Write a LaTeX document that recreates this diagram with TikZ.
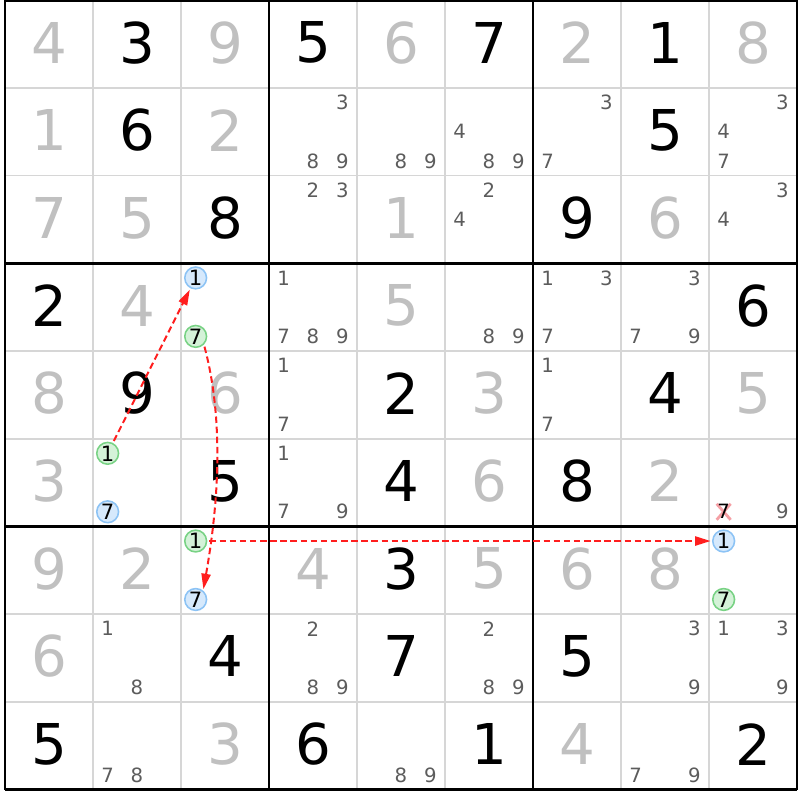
\documentclass[tikz,border=0pt]{standalone}
\usepackage{fontspec}
\setmainfont{DejaVu Sans}
\usepackage{xcolor}
\usepackage{tikz}
\usetikzlibrary{arrows.meta}

\definecolor{solvedgray}{RGB}{192,192,192}
\definecolor{candgray}{RGB}{92,92,92}
\definecolor{gridgray}{RGB}{214,214,214}
\definecolor{onfill}{RGB}{214,233,252}
\definecolor{online}{RGB}{140,195,245}
\definecolor{offfill}{RGB}{212,242,216}
\definecolor{offline}{RGB}{120,210,132}
\definecolor{linkred}{RGB}{255,30,30}
\definecolor{elimpink}{RGB}{245,160,165}

\def\ox{5}
\def\oy{0.2}
\def\cw{88}
\def\ch{87.7}

\tikzset{
  given/.style={inner sep=0pt, font=\fontsize{40}{40}\selectfont, text=black},
  solved/.style={given, text=solvedgray},
  cand/.style={inner sep=0pt, font=\fontsize{14}{14}\selectfont, text=candgray},
  onmark/.style={circle, draw=online, fill=onfill, line width=1.1pt, minimum size=15.5pt, inner sep=0pt, font=\fontsize{15}{15}\selectfont},
  offmark/.style={onmark, draw=offline, fill=offfill},
  link/.style={draw=linkred, line width=1.42pt, dash pattern=on 4.6pt off 2.6pt, -{Triangle[length=11pt,width=6.5pt]}, shorten <=1.5pt, shorten >=1pt}
}

\begin{document}
\begin{tikzpicture}[x=0.025cm, y=0.025cm]
\useasboundingbox (0,0) rectangle (800,-800);
\fill[white] (0,0) rectangle (800,-800);

\foreach \i in {0,...,9} {
  \draw[gridgray, line width=1.2pt] ({\ox+\cw*\i},{-\oy}) -- ({\ox+\cw*\i},{-\oy-9*\ch});
  \draw[gridgray, line width=1.2pt] (\ox,{-\oy-\ch*\i}) -- ({\ox+9*\cw},{-\oy-\ch*\i});
}
\foreach \i in {0,3,6,9} {
  \draw[black, line width=2.1pt] ({\ox+\cw*\i},{-\oy}) -- ({\ox+\cw*\i},{-\oy-9*\ch});
  \draw[black, line width=2.1pt] (\ox,{-\oy-\ch*\i}) -- ({\ox+9*\cw},{-\oy-\ch*\i});
}

\foreach \r/\c/\d in {1/2/3, 1/4/5, 1/6/7, 1/8/1, 2/2/6, 2/8/5, 3/3/8, 3/7/9,
    4/1/2, 4/9/6, 5/2/9, 5/5/2, 5/8/4, 6/3/5, 6/5/4, 6/7/8, 7/5/3,
    8/3/4, 8/5/7, 8/7/5, 9/1/5, 9/4/6, 9/6/1, 9/9/2}
  \node[given] (g\r\c) at ({\ox+\cw*(\c-0.5)},{-\oy-\ch*(\r-0.5)+1.5}) {\d};

\foreach \r/\c/\d in {1/1/4, 1/3/9, 1/5/6, 1/7/2, 1/9/8, 2/1/1, 2/3/2,
    3/1/7, 3/2/5, 3/5/1, 3/8/6, 4/2/4, 4/5/5, 5/1/8, 5/3/6, 5/6/3, 5/9/5,
    6/1/3, 6/6/6, 6/8/2, 7/1/9, 7/2/2, 7/4/4, 7/6/5, 7/7/6, 7/8/8,
    8/1/6, 9/3/3, 9/7/4}
  \node[solved] (s\r\c) at ({\ox+\cw*(\c-0.5)},{-\oy-\ch*(\r-0.5)+1.5}) {\d};

\foreach \r/\c/\ds in {2/4/{3,8,9}, 2/5/{8,9}, 2/6/{4,8,9}, 2/7/{3,7}, 2/9/{3,4,7},
    3/4/{2,3}, 3/6/{2,4}, 3/9/{3,4}, 4/4/{1,7,8,9}, 4/6/{8,9}, 4/7/{1,3,7},
    4/8/{3,7,9}, 5/4/{1,7}, 5/7/{1,7}, 6/4/{1,7,9}, 6/9/{9},
    8/2/{1,8}, 8/4/{2,8,9}, 8/6/{2,8,9}, 8/8/{3,9}, 8/9/{1,3,9},
    9/2/{7,8}, 9/5/{8,9}, 9/8/{7,9}}
  \foreach \d in \ds
    \node[cand] (k\r\c\d) at ({\ox+\cw*(\c-1)+\cw*(2*mod(\d-1,3)+1)/6},{-\oy-\ch*(\r-1)-\ch*(2*int((\d-1)/3)+1)/6}) {\d};

\coordinate (x697) at ({\ox+8*\cw+\cw/6},{-\oy-5*\ch-5*\ch/6});
\draw[elimpink, line width=2pt] ([shift={(-7,-8)}]x697) -- ([shift={(7,8)}]x697)
                                ([shift={(-7,8)}]x697) -- ([shift={(7,-8)}]x697);
\node[cand, text=black] (k697) at (x697) {7};

\foreach \r/\c/\d/\kind in {4/3/1/onmark, 4/3/7/offmark, 6/2/1/offmark, 6/2/7/onmark,
    7/3/1/offmark, 7/3/7/onmark, 7/9/1/onmark, 7/9/7/offmark}
  \node[\kind] (m\r\c\d) at ({\ox+\cw*(\c-1)+\cw*(2*mod(\d-1,3)+1)/6},{-\oy-\ch*(\r-1)-\ch*(2*int((\d-1)/3)+1)/6}) {\d};

\draw[link] (m621) -- (m431);
\draw[link] (m437.-45) to[out=-75, in=80, looseness=0.85] (m737.50);
\draw[link] (m731) -- (m791);
\end{tikzpicture}
\end{document}
